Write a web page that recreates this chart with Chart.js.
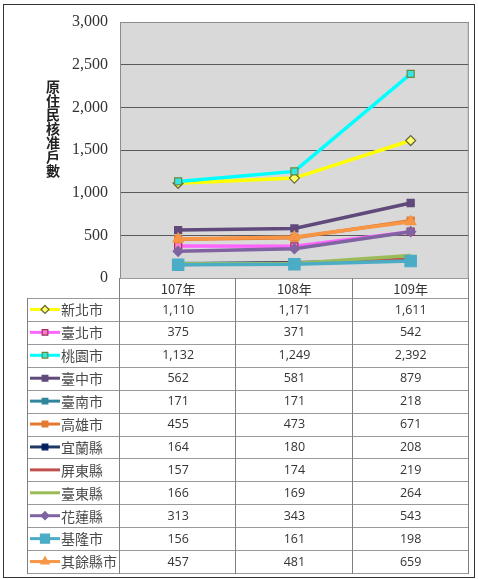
<!DOCTYPE html>
<html>
<head>
<meta charset="utf-8">
<script src="https://cdn.jsdelivr.net/npm/chart.js@4"></script>
<style>
html,body{margin:0;padding:0;background:#fff;}
#wrap{width:478px;height:579px;position:relative;}
</style>
</head>
<body>
<div id="wrap"><canvas id="c" width="478" height="579"></canvas></div>
<script>
// ---- data ----
const categories = ['107年', '108年', '109年'];
const seriesNames = ['新北市','臺北市','桃園市','臺中市','臺南市','高雄市','宜蘭縣','屏東縣','臺東縣','花蓮縣','基隆市','其餘縣市'];
const xinbei   = [1110, 1171, 1611];
const taipei   = [375, 371, 542];
const taoyuan  = [1132, 1249, 2392];
const taichung = [562, 581, 879];
const tainan   = [171, 171, 218];
const kaohsiung= [455, 473, 671];
const yilan    = [164, 180, 208];
const pingtung = [157, 174, 219];
const taitung  = [166, 169, 264];
const hualien  = [313, 343, 543];
const keelung  = [156, 161, 198];
const others   = [457, 481, 659];
const yTicks = [0, 500, 1000, 1500, 2000, 2500, 3000];
const yTitle = '原住民核准戶數';

const seriesValues = [xinbei, taipei, taoyuan, taichung, tainan, kaohsiung, yilan, pingtung, taitung, hualien, keelung, others];

// ---- styles ----
const styles = [
  {line:'#ffff00', style:'rectRot', r:5, bg:'#ffff66', bd:'#66663a'},
  {line:'#ff66ff', style:'rect', r:5, bg:'#ff7fcf', bd:'#a0305a'},
  {line:'#00ffff', style:'rect', r:5, bg:'#33e6e6', bd:'#6a8a3a'},
  {line:'#604a7b', style:'rect', r:5, bg:'#604a7b', bd:'#604a7b'},
  {line:'#31859c', style:'rect', r:5, bg:'#31859c', bd:'#31859c'},
  {line:'#e3782e', style:'rect', r:5, bg:'#e3782e', bd:'#e3782e'},
  {line:'#1f3864', style:'rect', r:5, bg:'#002060', bd:'#002060'},
  {line:'#c0504d', style:false, r:0, bg:'#c0504d', bd:'#c0504d'},
  {line:'#9bbb59', style:false, r:0, bg:'#9bbb59', bd:'#9bbb59'},
  {line:'#8064a2', style:'rectRot', r:5, bg:'#8064a2', bd:'#8064a2'},
  {line:'#4bacc6', style:'rect', r:8, bg:'#4bacc6', bd:'#4bacc6'},
  {line:'#f79646', style:'triangle', r:6, bg:'#f79646', bd:'#f79646'}
];

const datasets = seriesNames.map((n, i) => ({
  label: n,
  data: seriesValues[i],
  borderColor: styles[i].line,
  borderWidth: 3.5,
  pointStyle: styles[i].style || 'circle',
  pointRadius: styles[i].r,
  pointHoverRadius: styles[i].r,
  pointBackgroundColor: styles[i].bg,
  pointBorderColor: styles[i].bd,
  pointBorderWidth: 1.2,
  tension: 0,
  order: seriesNames.length - i
}));

const TABLE_LEFT = 27, HEADER_TOP = 278, ROWS_TOP = 298, ROWS_BOTTOM = 573;
const SERIF = '"Liberation Serif", "Times New Roman", "DejaVu Serif", serif';

const decorPlugin = {
  id: 'decor',
  beforeDraw(chart) {
    const ctx = chart.ctx, a = chart.chartArea;
    ctx.save();
    ctx.fillStyle = '#ffffff';
    ctx.fillRect(0, 0, chart.width, chart.height);
    ctx.fillStyle = '#d9d9d9';
    ctx.fillRect(a.left, a.top, a.right - a.left, a.bottom - a.top);
    ctx.restore();
  },
  afterDraw(chart) {
    const ctx = chart.ctx, a = chart.chartArea;
    const xs = chart.scales.x;
    ctx.save();
    // plot border
    ctx.strokeStyle = '#8c8c8c';
    ctx.lineWidth = 1;
    ctx.strokeRect(a.left + 0.5, a.top + 0.5, a.right - a.left - 1, a.bottom - a.top);

    // y title (vertical stacked)
    ctx.fillStyle = '#222';
    ctx.font = 'bold 14px "Noto Sans CJK TC"';
    ctx.textAlign = 'center';
    ctx.textBaseline = 'middle';
    const chars = Array.from(yTitle);
    chars.forEach((ch, k) => ctx.fillText(ch, 53, 87 + k * 14));

    // table
    const n = categories.length;
    const cw = (a.right - a.left) / n;
    const rowH = (ROWS_BOTTOM - ROWS_TOP) / seriesNames.length;
    ctx.strokeStyle = '#9a9a9a';
    ctx.lineWidth = 1;
    ctx.beginPath();
    ctx.moveTo(a.left, HEADER_TOP + 0.5); ctx.lineTo(a.right, HEADER_TOP + 0.5);
    for (let r = 0; r <= seriesNames.length; r++) {
      const y = Math.round(ROWS_TOP + r * rowH) + 0.5;
      ctx.moveTo(TABLE_LEFT, y); ctx.lineTo(a.right, y);
    }
    ctx.stroke();
    ctx.strokeStyle = '#808080';
    ctx.beginPath();
    ctx.moveTo(TABLE_LEFT + 0.5, ROWS_TOP); ctx.lineTo(TABLE_LEFT + 0.5, ROWS_BOTTOM + 1);
    for (let k = 0; k <= n; k++) {
      const x = Math.round(a.left + k * cw) - 0.5;
      ctx.moveTo(x, HEADER_TOP); ctx.lineTo(x, ROWS_BOTTOM + 1);
    }
    ctx.stroke();

    // header labels
    ctx.fillStyle = '#333';
    ctx.font = '13px "Noto Sans CJK TC"';
    ctx.textAlign = 'center';
    ctx.textBaseline = 'middle';
    categories.forEach((c, k) => {
      ctx.fillText(c, xs.getPixelForValue(k), (HEADER_TOP + ROWS_TOP) / 2 + 1);
    });

    // rows
    seriesNames.forEach((name, r) => {
      const cy = ROWS_TOP + (r + 0.5) * rowH;
      const st = styles[r];
      ctx.strokeStyle = st.line;
      ctx.lineWidth = 3;
      ctx.beginPath();
      ctx.moveTo(30, cy); ctx.lineTo(60, cy);
      ctx.stroke();
      if (st.style) {
        ctx.fillStyle = st.bg;
        ctx.strokeStyle = st.bd;
        ctx.lineWidth = 1.2;
        Chart.helpers.drawPoint(ctx, {pointStyle: st.style, radius: st.r * 0.8, rotation: 0, borderWidth: 1.2}, 45, cy);
      }
      ctx.fillStyle = '#4a4a4a';
      ctx.font = '14px "Noto Sans CJK TC"';
      ctx.textAlign = 'left';
      ctx.textBaseline = 'middle';
      ctx.fillText(name, 61, cy + 0.5);
      ctx.font = '12.5px "Open Sans"';
      ctx.textAlign = 'center';
      ctx.fillStyle = '#333';
      seriesValues[r].forEach((v, k) => {
        ctx.fillText(v.toLocaleString('en-US'), xs.getPixelForValue(k), cy + 0.5);
      });
    });

    // outer frame
    ctx.strokeStyle = '#333';
    ctx.lineWidth = 1;
    ctx.strokeRect(3.5, 4.5, 471, 573);
    ctx.restore();
  }
};

new Chart(document.getElementById('c'), {
  type: 'line',
  data: { labels: categories, datasets },
  options: {
    responsive: false,
    animation: false,
    devicePixelRatio: 1,
    layout: { padding: { left: 0, top: 22, right: 5, bottom: 301 } },
    plugins: { legend: { display: false }, tooltip: { enabled: false }, title: { display: false } },
    scales: {
      x: {
        type: 'category',
        offset: true,
        display: false
      },
      y: {
        min: 0,
        max: 3000,
        afterBuildTicks(scale) { scale.ticks = yTicks.map(v => ({ value: v })); },
        afterFit(scale) { scale.width = 120; },
        border: { display: false },
        grid: { color: '#5a5a5a', lineWidth: 1, drawTicks: false },
        ticks: {
          padding: 12,
          color: '#333',
          font: { family: SERIF, size: 16 },
          callback: v => Number(v).toLocaleString('en-US')
        }
      }
    }
  },
  plugins: [decorPlugin]
});
</script>
</body>
</html>
